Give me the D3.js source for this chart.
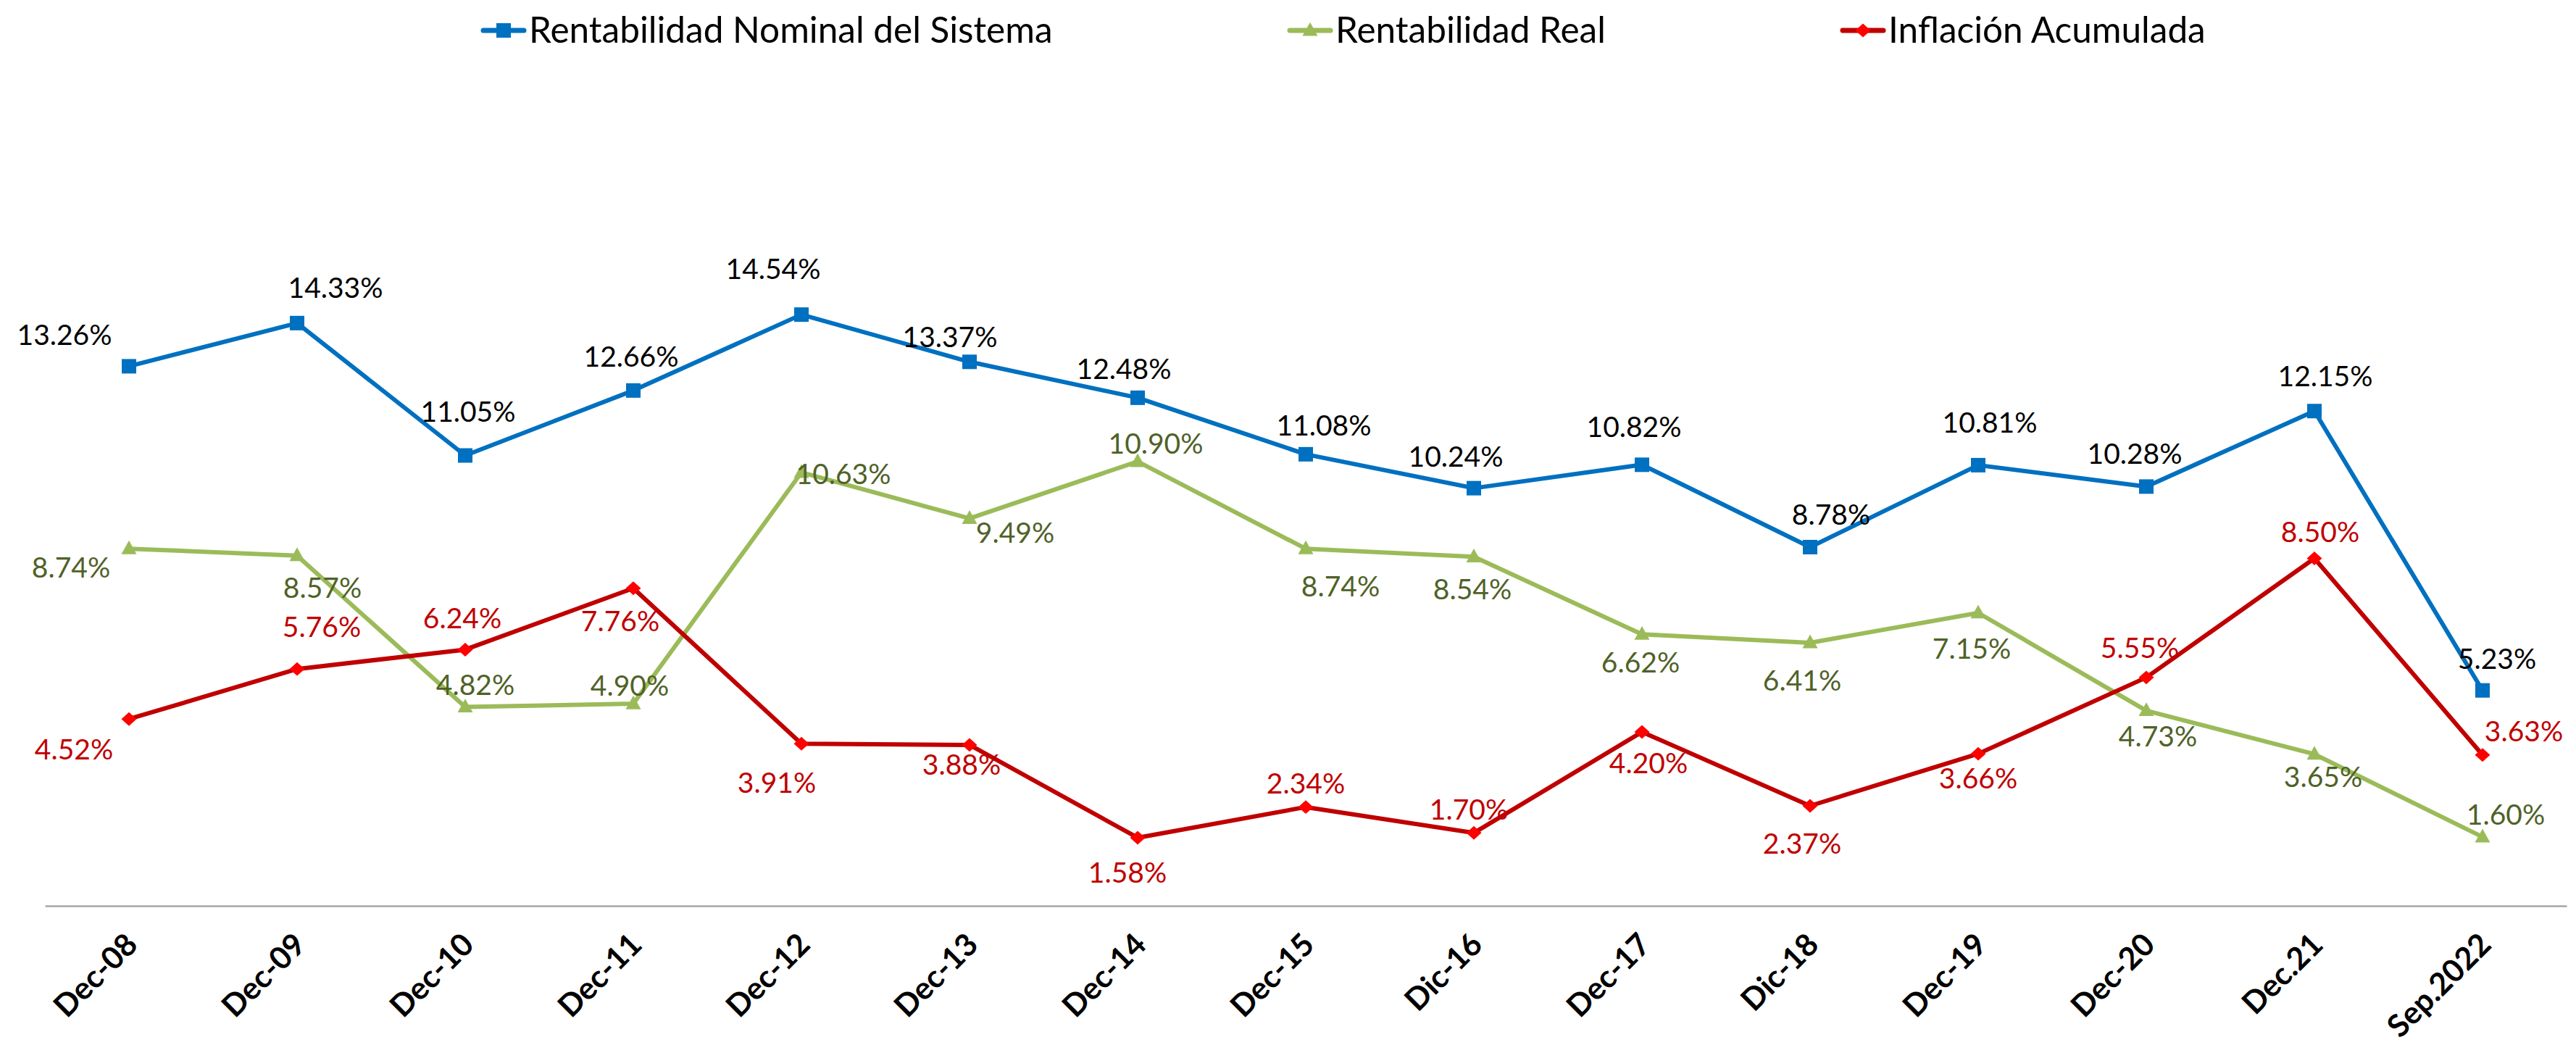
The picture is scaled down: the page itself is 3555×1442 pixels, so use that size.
<!DOCTYPE html>
<html>
<head>
<meta charset="utf-8">
<script src="https://cdn.jsdelivr.net/npm/d3@7"></script>
<style>
  body { margin: 0; background: #ffffff; }
  svg { display: block; }
</style>
</head>
<body>
<svg id="chart" width="3555" height="1442"></svg>
<script>
// ---- data ----
const categories = ["Dec-08", "Dec-09", "Dec-10", "Dec-11", "Dec-12", "Dec-13", "Dec-14", "Dec-15",
  "Dic-16", "Dec-17", "Dic-18", "Dec-19", "Dec-20", "Dec.21", "Sep.2022"];
const nominal   = [13.26, 14.33, 11.05, 12.66, 14.54, 13.37, 12.48, 11.08, 10.24, 10.82, 8.78, 10.81, 10.28, 12.15, 5.23];
const real      = [8.74, 8.57, 4.82, 4.90, 10.63, 9.49, 10.90, 8.74, 8.54, 6.62, 6.41, 7.15, 4.73, 3.65, 1.60];
const inflation = [4.52, 5.76, 6.24, 7.76, 3.91, 3.88, 1.58, 2.34, 1.70, 4.20, 2.37, 3.66, 5.55, 8.50, 3.63];
const seriesNames = ["Rentabilidad Nominal del Sistema", "Rentabilidad Real", "Inflación Acumulada"];

// ---- label placement (pixel offsets of each value label from its marker) ----
const nominalLabelOffsets = [[-89,-43],[53,-48],[4,-60],[-3,-46],[-39,-63],[-27,-34],[-19,-40],[25,-39],
  [-25,-43],[-11,-52],[29,-45],[16,-59],[-16,-45],[15,-48],[20,-43]];
const realLabelOffsets = [[-80,26],[35,45],[14,-30],[-5,-25],[58,2],[63,20],[25,-25],[48,52],
  [-2,45],[-2,39],[-11,52],[-9,50],[16,36],[12,32],[32,-31]];
const inflationLabelOffsets = [[-76,42],[34,-58],[-4,-43],[-18,46],[-34,54],[-11,27],[-14,48],[0,-32],
  [-7,-32],[9,43],[-11,52],[0,34],[-9,-41],[8,-36],[57,-32]];

const FONT = "Lato, 'Open Sans', sans-serif";

// custom marker shapes (size = width in px)
const triangleMarker = {
  draw(ctx, w) {
    const h = w * 0.9;
    ctx.moveTo(0, -h * 0.6);
    ctx.lineTo(w / 2, h * 0.4);
    ctx.lineTo(-w / 2, h * 0.4);
    ctx.closePath();
  }
};
const diamondMarker = {
  draw(ctx, w) {
    const hw = w / 2, hh = w * 0.45;
    ctx.moveTo(0, -hh);
    ctx.lineTo(hw, 0);
    ctx.lineTo(0, hh);
    ctx.lineTo(-hw, 0);
    ctx.closePath();
  }
};
const squareMarker = {
  draw(ctx, w) { ctx.rect(-w / 2, -w / 2, w, w); }
};

const series = [
  { name: seriesNames[0], values: nominal,   offsets: nominalLabelOffsets,
    line: "#0070C0", fill: "#0070C0", text: "#000000", marker: squareMarker,   msize: 20 },
  { name: seriesNames[1], values: real,      offsets: realLabelOffsets,
    line: "#9BBB59", fill: "#9BBB59", text: "#4F6228", marker: triangleMarker, msize: 21 },
  { name: seriesNames[2], values: inflation, offsets: inflationLabelOffsets,
    line: "#C00000", fill: "#FF0000", text: "#C00000", marker: diamondMarker,  msize: 21 }
];

// ---- scales ----
const svg = d3.select("#chart");
const x = d3.scalePoint().domain(categories).range([62, 3542]).padding(0.5);
const y = d3.scaleLinear().domain([0, 20]).range([1244, 130]);
const axisY = 1250;

// ---- category axis ----
const xAxis = svg.append("g")
  .attr("transform", `translate(0,${axisY})`)
  .call(d3.axisBottom(x).tickSize(0).tickSizeOuter(0));
xAxis.select(".domain").attr("stroke", "#A6A6A6").attr("stroke-width", 2.5);
xAxis.selectAll(".tick text")
  .attr("x", null).attr("y", null).attr("dy", null)
  .attr("transform", "translate(14,56) rotate(-45)")
  .style("text-anchor", "end")
  .style("font-family", FONT)
  .style("font-weight", "700")
  .style("font-size", "43px")
  .attr("fill", "#000000");

// ---- lines, markers, labels ----
const line = d3.line()
  .x((d, i) => x(categories[i]))
  .y(d => y(d));

series.forEach(s => {
  const g = svg.append("g");
  g.append("path")
    .datum(s.values)
    .attr("d", line)
    .attr("fill", "none")
    .attr("stroke", s.line)
    .attr("stroke-width", 6)
    .attr("stroke-linejoin", "round");

  g.selectAll("path.marker")
    .data(s.values)
    .join("path")
    .attr("class", "marker")
    .attr("transform", (d, i) => `translate(${x(categories[i])},${y(d)})`)
    .attr("d", d3.symbol().type(s.marker).size(s.msize))
    .attr("fill", s.fill);
});

series.forEach(s => {
  svg.append("g").selectAll("text")
    .data(s.values)
    .join("text")
    .attr("x", (d, i) => x(categories[i]) + s.offsets[i][0])
    .attr("y", (d, i) => y(d) + s.offsets[i][1])
    .attr("dy", "0.35em")
    .attr("text-anchor", "middle")
    .style("font-family", FONT)
    .style("font-size", "39px")
    .attr("fill", s.text)
    .text(d => d3.format(".2f")(d) + "%");
});

// ---- legend ----
const legendX = [667, 1780, 2543];
const legendY = 42;
series.forEach((s, i) => {
  const g = svg.append("g").attr("transform", `translate(${legendX[i]},${legendY})`);
  g.append("line")
    .attr("x1", 0).attr("x2", 56).attr("y1", 0).attr("y2", 0)
    .attr("stroke", s.line).attr("stroke-width", 7).attr("stroke-linecap", "round");
  g.append("path")
    .attr("transform", "translate(28,0)")
    .attr("d", d3.symbol().type(s.marker).size(s.msize))
    .attr("fill", s.fill);
  g.append("text")
    .attr("x", 63).attr("y", 0).attr("dy", "0.35em")
    .style("font-family", FONT)
    .style("font-size", "49.5px")
    .attr("fill", "#000000")
    .text(s.name);
});
</script>
</body>
</html>
